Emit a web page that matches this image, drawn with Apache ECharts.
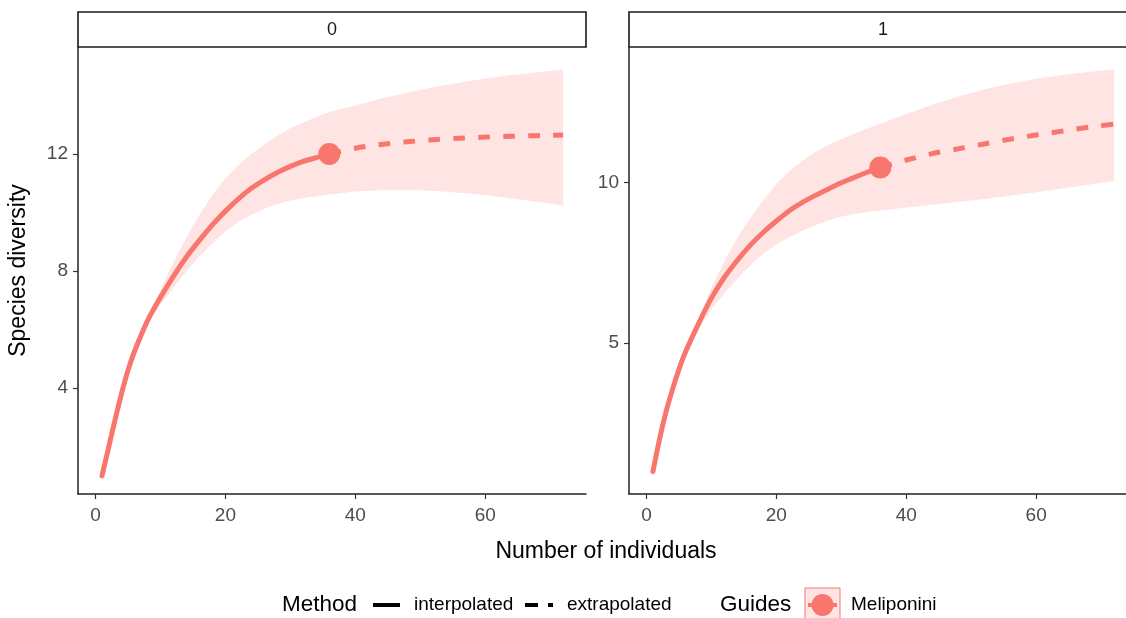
<!DOCTYPE html>
<html>
<head>
<meta charset="utf-8">
<title>Species diversity</title>
<script src="https://cdn.jsdelivr.net/npm/echarts@6/dist/echarts.min.js"></script>
<style>
    html, body {margin: 0; background: #fff;}
    #main {width: 1126px; height: 618px;}
</style>
</head>
<body>
<div id="main"></div>
<script>
// facets
const facets = ['0', '1'];

// interpolated (rarefaction) curve
const interpX = [1, 2, 3, 4, 5, 6, 8, 10, 12, 14, 16, 18, 20, 22, 24, 26, 28, 30, 32, 34, 36];
const interp0 = [1, 1.95, 2.9, 3.8, 4.6, 5.25, 6.3, 7.1, 7.82, 8.48, 9.05, 9.58, 10.05, 10.47, 10.83, 11.12, 11.37, 11.58, 11.75, 11.88, 12.0];
const interp1 = [1, 2.0, 2.85, 3.55, 4.18, 4.72, 5.6, 6.4, 7.05, 7.58, 8.05, 8.45, 8.8, 9.12, 9.38, 9.6, 9.8, 9.99, 10.16, 10.32, 10.47];

// extrapolated curve
const extrapX = [36, 40, 44, 48, 52, 56, 60, 64, 68, 72];
const extrap0 = [12.0, 12.2, 12.33, 12.42, 12.49, 12.54, 12.58, 12.61, 12.63, 12.65];
const extrap1 = [10.47, 10.7, 10.9, 11.05, 11.2, 11.35, 11.48, 11.6, 11.72, 11.82];

// observed sample
const observed0 = [36, 12.0];
const observed1 = [36, 10.47];

// confidence band
const bandX = [1, 2, 3, 4, 5, 6, 8, 10, 12, 14, 16, 18, 20, 22, 24, 26, 28, 30, 32, 34, 36, 40, 44, 48, 52, 56, 60, 64, 68, 72];
const upper0 = [1, 1.97, 2.93, 3.83, 4.64, 5.3, 6.4, 7.35, 8.3, 9.15, 9.92, 10.6, 11.17, 11.63, 12.0, 12.33, 12.63, 12.88, 13.08, 13.27, 13.44, 13.66, 13.9, 14.1, 14.28, 14.44, 14.58, 14.7, 14.8, 14.88];
const lower0 = [1, 1.93, 2.87, 3.77, 4.56, 5.2, 6.2, 6.85, 7.42, 8.0, 8.5, 8.95, 9.35, 9.68, 9.93, 10.13, 10.29, 10.41, 10.5, 10.56, 10.62, 10.72, 10.76, 10.77, 10.75, 10.68, 10.6, 10.48, 10.37, 10.25];
const upper1 = [1, 2.02, 2.88, 3.6, 4.26, 4.82, 5.78, 6.72, 7.55, 8.28, 8.9, 9.45, 9.95, 10.35, 10.68, 10.95, 11.17, 11.35, 11.52, 11.68, 11.83, 12.13, 12.42, 12.68, 12.9, 13.08, 13.23, 13.35, 13.44, 13.52];
const lower1 = [1, 1.98, 2.82, 3.5, 4.1, 4.6, 5.42, 6.05, 6.55, 7.0, 7.42, 7.8, 8.07, 8.3, 8.5, 8.67, 8.82, 8.94, 9.02, 9.08, 9.13, 9.22, 9.31, 9.4, 9.49, 9.59, 9.7, 9.81, 9.93, 10.05];

// tick labels
const xTicks = [0, 20, 40, 60];
const yTicks0 = [4, 8, 12];
const yTicks1 = [5, 10];

const salmon = '#F8766D';
const font = "'Liberation Sans', Arial, sans-serif";

const pairs = (xs, ys) => xs.map((x, i) => [x, ys[i]]);

function bandSeries(idx, lo, hi) {
    const rows = bandX.map((x, i) => [x, lo[i], hi[i]]);
    return {
        type: 'custom',
        xAxisIndex: idx,
        yAxisIndex: idx,
        data: rows,
        encode: {x: 0, y: [1, 2]},
        silent: true,
        z: 1,
        renderItem: function (params, api) {
            if (params.dataIndex !== 0) return null;
            const top = rows.map(r => api.coord([r[0], r[2]]));
            const bot = rows.map(r => api.coord([r[0], r[1]])).reverse();
            return {
                type: 'polygon',
                shape: {points: top.concat(bot)},
                style: {fill: 'rgba(248,118,109,0.2)'}
            };
        }
    };
}

function curveSeries(idx, data, dashed) {
    return {
        type: 'line',
        xAxisIndex: idx,
        yAxisIndex: idx,
        data: data,
        symbol: 'none',
        smooth: 0.3,
        z: 3,
        lineStyle: {
            color: salmon,
            width: 5,
            type: dashed ? [12, 13] : 'solid',
            cap: dashed ? 'butt' : 'round'
        }
    };
}

function pointSeries(idx, pt) {
    return {
        type: 'scatter',
        xAxisIndex: idx,
        yAxisIndex: idx,
        data: [pt],
        symbolSize: 22,
        z: 4,
        itemStyle: {color: salmon, opacity: 1}
    };
}

function xAxis(idx, max) {
    return {
        type: 'value',
        gridIndex: idx,
        min: -2.69,
        max: max,
        splitLine: {show: false},
        axisLine: {onZero: false, lineStyle: {color: '#222', width: 1.5}},
        axisTick: {customValues: xTicks, length: 5, lineStyle: {color: '#333', width: 1.2}},
        axisLabel: {customValues: xTicks, color: '#4D4D4D', fontSize: 19, fontFamily: font, margin: 12}
    };
}

function yAxis(idx, min, max, ticks) {
    return {
        type: 'value',
        gridIndex: idx,
        min: min,
        max: max,
        splitLine: {show: false},
        axisLine: {onZero: false, lineStyle: {color: '#222', width: 1.5}},
        axisTick: {customValues: ticks, length: 5, lineStyle: {color: '#333', width: 1.2}},
        axisLabel: {customValues: ticks, color: '#4D4D4D', fontSize: 19, fontFamily: font, margin: 10}
    };
}

const yLeft = yAxis(0, 0.38, 15.66, yTicks0);
yLeft.name = 'Species diversity';
yLeft.nameLocation = 'middle';
yLeft.nameRotate = 90;
yLeft.nameGap = 48;
yLeft.nameTextStyle = {color: '#000', fontSize: 23, fontFamily: font};

function strip(x, label) {
    return [
        {
            type: 'rect',
            shape: {x: x, y: 12, width: 508, height: 35},
            style: {fill: '#fff', stroke: '#1a1a1a', lineWidth: 1.6}
        },
        {
            type: 'text',
            x: x + 254,
            y: 30,
            style: {text: label, fill: '#1a1a1a', font: '18px ' + font, align: 'center', verticalAlign: 'middle'}
        }
    ];
}

const ly = 605;
const legendItems = [
    {type: 'text', x: 282, y: ly, style: {text: 'Method', fill: '#000', font: '22.5px ' + font, verticalAlign: 'middle'}},
    {type: 'line', shape: {x1: 373, y1: ly, x2: 400, y2: ly}, style: {stroke: '#000', lineWidth: 4}},
    {type: 'text', x: 414, y: ly, style: {text: 'interpolated', fill: '#000', font: '19px ' + font, verticalAlign: 'middle'}},
    {type: 'line', shape: {x1: 525, y1: ly, x2: 553, y2: ly}, style: {stroke: '#000', lineWidth: 4, lineDash: [13, 10]}},
    {type: 'text', x: 567, y: ly, style: {text: 'extrapolated', fill: '#000', font: '19px ' + font, verticalAlign: 'middle'}},
    {type: 'text', x: 720, y: ly, style: {text: 'Guides', fill: '#000', font: '22.5px ' + font, verticalAlign: 'middle'}},
    {type: 'rect', shape: {x: 805, y: 588, width: 35, height: 34}, style: {fill: 'rgba(248,118,109,0.2)', stroke: salmon, lineWidth: 1}},
    {type: 'line', shape: {x1: 808, y1: ly, x2: 837, y2: ly}, style: {stroke: salmon, lineWidth: 4}},
    {type: 'circle', shape: {cx: 822.5, cy: ly, r: 11}, style: {fill: salmon}},
    {type: 'text', x: 851, y: ly, style: {text: 'Meliponini', fill: '#000', font: '19px ' + font, verticalAlign: 'middle'}}
];

const option = {
    animation: false,
    backgroundColor: '#fff',
    grid: [
        {left: 78, top: 47, width: 508, height: 447},
        // right panel runs past the canvas edge; keep the same px per unit
        {left: 629, top: 47, width: 497, height: 447}
    ],
    xAxis: [xAxis(0, 75.52), xAxis(1, 73.83)],
    yAxis: [yLeft, yAxis(1, 0.30, 14.22, yTicks1)],
    graphic: [
        ...strip(78, facets[0]),
        ...strip(629, facets[1]),
        {type: 'text', x: 606, y: 552, style: {text: 'Number of individuals', fill: '#000', font: '23px ' + font, align: 'center', verticalAlign: 'middle'}},
        ...legendItems
    ],
    series: [
        bandSeries(0, lower0, upper0),
        curveSeries(0, pairs(interpX, interp0), false),
        curveSeries(0, pairs(extrapX, extrap0), true),
        pointSeries(0, observed0),
        bandSeries(1, lower1, upper1),
        curveSeries(1, pairs(interpX, interp1), false),
        curveSeries(1, pairs(extrapX, extrap1), true),
        pointSeries(1, observed1)
    ]
};

const myChart = echarts.init(document.getElementById('main'));
myChart.setOption(option);
</script>
</body>
</html>
